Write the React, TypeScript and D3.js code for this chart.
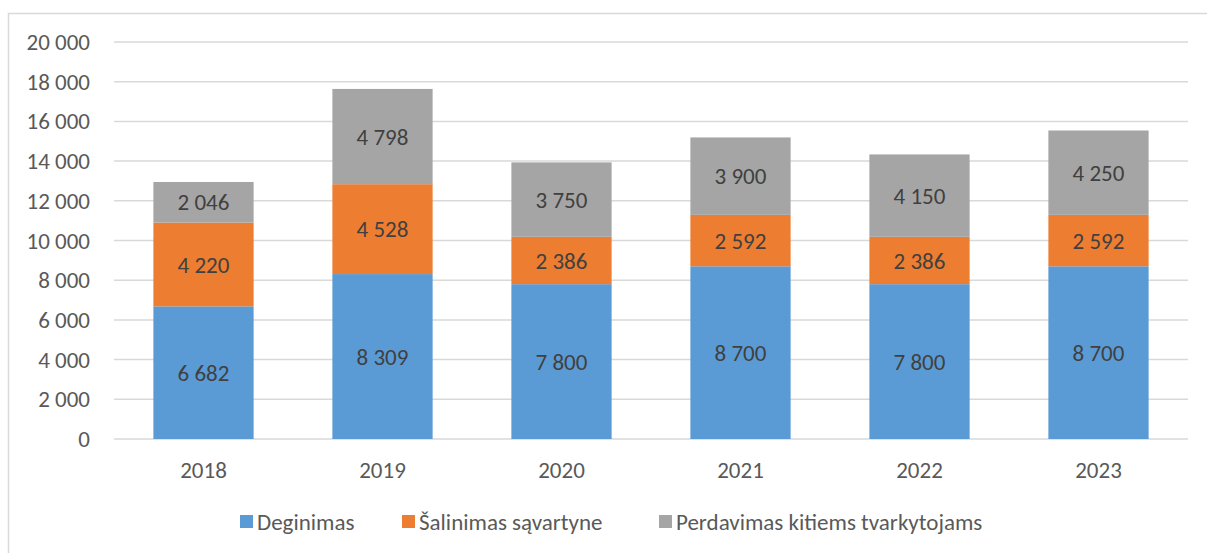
import { useEffect, useRef } from 'react';
import * as d3 from 'd3';

const years = ['2018', '2019', '2020', '2021', '2022', '2023'];
const deginimas = [6682, 8309, 7800, 8700, 7800, 8700];
const salinimas = [4220, 4528, 2386, 2592, 2386, 2592];
const perdavimas = [2046, 4798, 3750, 3900, 4150, 4250];
const seriesNames = ['Deginimas', 'Šalinimas sąvartyne', 'Perdavimas kitiems tvarkytojams'];
const seriesColors = ['#5B9BD5', '#ED7D31', '#A5A5A5'];
const yTicks = [0, 2000, 4000, 6000, 8000, 10000, 12000, 14000, 16000, 18000, 20000];

const fmt = (v: number) => d3.format(',')(v).replace(/,/g, ' ');

const App = () => {
  const svgRef = useRef<SVGSVGElement>(null);

  useEffect(() => {
    const width = 1207;
    const height = 553;
    const margin = { top: 42, right: 19, bottom: 114, left: 114 };
    const font = 'Carlito, Lato, "Open Sans", sans-serif';

    const svg = d3.select(svgRef.current);
    svg.selectAll('*').remove();
    svg.attr('width', width).attr('height', height);

    // outer frame
    svg.append('rect')
      .attr('x', 8.5).attr('y', 13.5)
      .attr('width', width).attr('height', height)
      .attr('fill', '#fff').attr('stroke', '#d9d9d9').attr('stroke-width', 1.5);

    const x = d3.scaleBand()
      .domain(years)
      .range([margin.left, width - margin.right])
      .paddingInner(0.44)
      .paddingOuter(0.22);

    const y = d3.scaleLinear()
      .domain([0, 20000])
      .range([height - margin.bottom, margin.top]);

    // gridlines
    svg.append('g')
      .selectAll('line')
      .data(yTicks)
      .join('line')
      .attr('x1', margin.left).attr('x2', width - margin.right)
      .attr('y1', d => y(d)).attr('y2', d => y(d))
      .attr('stroke', '#d9d9d9').attr('stroke-width', 1.5);

    // y labels
    svg.append('g')
      .selectAll('text')
      .data(yTicks)
      .join('text')
      .attr('x', 90)
      .attr('y', d => y(d))
      .attr('dy', '0.35em')
      .attr('text-anchor', 'end')
      .attr('font-family', font).attr('font-size', 23)
      .attr('fill', '#595959')
      .text(d => fmt(d));

    const rows = years.map((yr, i) => ({ year: yr, a: deginimas[i], b: salinimas[i], c: perdavimas[i] }));
    const stack = d3.stack<any>().keys(['a', 'b', 'c'])(rows);

    const groups = svg.append('g')
      .selectAll('g')
      .data(stack)
      .join('g')
      .attr('fill', (_, i) => seriesColors[i]);

    groups.selectAll('rect')
      .data(d => d)
      .join('rect')
      .attr('x', d => x(d.data.year)!)
      .attr('width', x.bandwidth())
      .attr('y', d => y(d[1]))
      .attr('height', d => y(d[0]) - y(d[1]));

    groups.selectAll('text')
      .data(d => d)
      .join('text')
      .attr('x', d => x(d.data.year)! + x.bandwidth() / 2)
      .attr('y', d => (y(d[0]) + y(d[1])) / 2)
      .attr('dy', '0.35em')
      .attr('text-anchor', 'middle')
      .attr('font-family', font).attr('font-size', 23)
      .attr('fill', '#404040')
      .text(d => fmt(d[1] - d[0]));

    // x labels
    svg.append('g')
      .selectAll('text')
      .data(years)
      .join('text')
      .attr('x', d => x(d)! + x.bandwidth() / 2)
      .attr('y', 470)
      .attr('dy', '0.35em')
      .attr('text-anchor', 'middle')
      .attr('font-family', font).attr('font-size', 23)
      .attr('fill', '#595959')
      .text(d => d);

    // legend
    const legendX = [240, 402, 659];
    const legend = svg.append('g')
      .selectAll('g')
      .data(seriesNames)
      .join('g')
      .attr('transform', (_, i) => `translate(${legendX[i]}, 522)`);
    legend.append('rect')
      .attr('x', 0).attr('y', -7)
      .attr('width', 13).attr('height', 13)
      .attr('fill', (_, i) => seriesColors[i]);
    legend.append('text')
      .attr('x', 17).attr('y', 0)
      .attr('dy', '0.35em')
      .attr('font-family', font).attr('font-size', 23)
      .attr('fill', '#595959')
      .text(d => d);
  }, []);

  return <svg ref={svgRef} style={{ position: 'absolute', left: 0, top: 0 }}></svg>;
};

export default App;
